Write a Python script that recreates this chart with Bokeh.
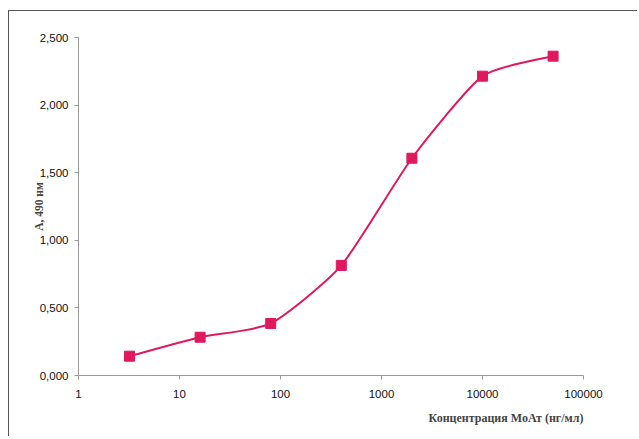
import numpy as np
from bokeh.plotting import figure
from bokeh.models import FixedTicker, CustomJSTickFormatter, Range1d, Title
from bokeh.embed import file_html
from bokeh.resources import INLINE

# Data (concentration of MoAb, ng/ml vs absorbance at 490 nm)
conc = [3.2, 16, 80, 400, 2000, 10000, 50000]
absorb = [0.143, 0.283, 0.385, 0.814, 1.607, 2.214, 2.362]
x_ticks = [1, 10, 100, 1000, 10000, 100000]
y_ticks = [0.0, 0.5, 1.0, 1.5, 2.0, 2.5]

COLOR = "#E0185E"

p = figure(width=629, height=426, x_axis_type="log",
           x_range=Range1d(1, 100000), y_range=Range1d(0, 2.5),
           output_backend="svg", toolbar_location=None,
           min_border_left=69, min_border_right=55,
           min_border_top=26, min_border_bottom=62)
p.margin = (10, 0, 0, 8)
p.styles = {"border-top": "1.5px solid #555555", "border-left": "1.5px solid #555555"}
p.outline_line_color = None
p.grid.grid_line_color = None

# Smoothed line (Excel-like bezier) computed in (log10 x, y) space
TENSION = 1.0 / 10.0
lx = np.log10(np.array(conc, dtype=float))
yy = np.array(absorb, dtype=float)
n = len(lx)
px = np.concatenate([[lx[0]], lx, [lx[-1]]])
py = np.concatenate([[yy[0]], yy, [yy[-1]]])
x0, y0, x1, y1, cx0, cy0, cx1, cy1 = [], [], [], [], [], [], [], []
for i in range(n - 1):
    a, b = i + 1, i + 2
    c0x = px[a] + (px[b] - px[a - 1]) * TENSION
    c0y = py[a] + (py[b] - py[a - 1]) * TENSION
    c1x = px[b] - (px[b + 1] - px[a]) * TENSION
    c1y = py[b] - (py[b + 1] - py[a]) * TENSION
    x0.append(10 ** px[a]); y0.append(py[a])
    x1.append(10 ** px[b]); y1.append(py[b])
    cx0.append(10 ** c0x); cy0.append(c0y)
    cx1.append(10 ** c1x); cy1.append(c1y)
p.bezier(x0=x0, y0=y0, x1=x1, y1=y1, cx0=cx0, cy0=cy0, cx1=cx1, cy1=cy1,
         line_color=COLOR, line_width=2)
p.scatter(conc, absorb, marker="square", size=10, fill_color=COLOR, line_color=COLOR)

# Axes
for ax in (p.xaxis[0], p.yaxis[0]):
    ax.axis_line_color = "#9a9a9a"
    ax.major_tick_line_color = "#9a9a9a"
    ax.minor_tick_line_color = None
    ax.major_tick_in = 0
    ax.major_tick_out = 4
    ax.major_label_text_font = "Liberation Sans"
    ax.major_label_text_font_size = "11.5px"
    ax.major_label_text_color = "#111111"

p.xaxis.ticker = FixedTicker(ticks=x_ticks, minor_ticks=[])
p.xaxis.formatter = CustomJSTickFormatter(code="return tick.toFixed(0);")
p.xaxis.major_label_standoff = 10

p.yaxis.ticker = FixedTicker(ticks=y_ticks, minor_ticks=[])
p.yaxis.formatter = CustomJSTickFormatter(code="return tick.toFixed(3).replace('.', ',');")
p.yaxis.major_label_standoff = 6
p.yaxis.axis_label = "А, 490 нм"
p.yaxis.axis_label_text_font = "Liberation Serif"
p.yaxis.axis_label_text_font_style = "bold"
p.yaxis.axis_label_text_font_size = "11.5px"
p.yaxis.axis_label_standoff = -8

p.add_layout(Title(text="Концентрация МоАт (нг/мл)", align="right",
                   text_font="Liberation Serif", text_font_style="bold",
                   text_font_size="12px", standoff=16), "below")

open("out.html", "w").write(file_html(p, INLINE))
